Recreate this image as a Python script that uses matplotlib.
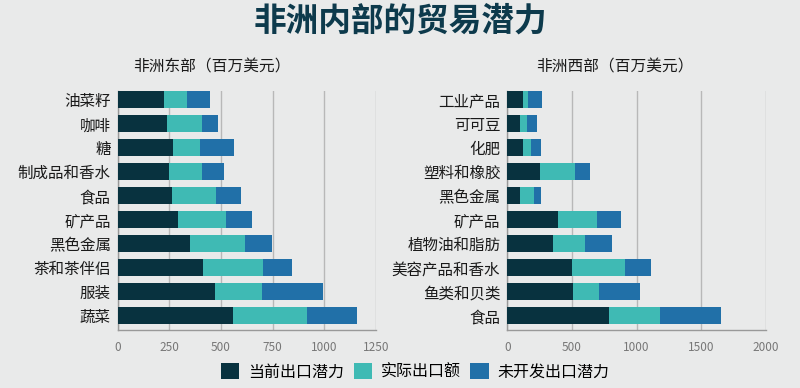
import matplotlib
matplotlib.use("Agg")
import matplotlib.pyplot as plt
from matplotlib.patches import Patch

plt.rcParams['font.family'] = ['Noto Sans CJK SC', 'DejaVu Sans']

# East Africa (million USD)
east_cats = ["油菜籽", "咖啡", "糖", "制成品和香水", "食品", "矿产品", "黑色金属", "茶和茶伴侣", "服装", "蔬菜"]
east_current = [225, 240, 269, 248, 261, 291, 351, 412, 472, 556]
east_actual = [112, 166, 132, 161, 217, 232, 263, 290, 225, 360]
east_untapped = [112, 79, 161, 108, 119, 129, 133, 140, 298, 240]

# West Africa (million USD)
west_cats = ["工业产品", "可可豆", "化肥", "塑料和橡胶", "黑色金属", "矿产品", "植物油和脂肪", "美容产品和香水", "鱼类和贝类", "食品"]
west_current = [121, 100, 121, 250, 100, 389, 351, 500, 510, 789]
west_actual = [36, 52, 62, 271, 106, 302, 250, 412, 201, 389]
west_untapped = [111, 77, 77, 121, 54, 190, 208, 196, 317, 471]

series_names = ["当前出口潜力", "实际出口额", "未开发出口潜力"]
colors = ["#08323f", "#3fbab4", "#2170a8"]
bg = "#e9eaea"

fig = plt.figure(figsize=(8, 3.88), dpi=100, facecolor=bg)


def draw(ax, cats, cur, act, unt, xmax, xticks):
    ax.set_facecolor(bg)
    y = list(range(len(cats)))
    left2 = [a + b for a, b in zip(cur, act)]
    ax.barh(y, cur, height=0.72, color=colors[0], zorder=3)
    ax.barh(y, act, left=cur, height=0.72, color=colors[1], zorder=3)
    ax.barh(y, unt, left=left2, height=0.72, color=colors[2], zorder=3)
    ax.set_ylim(9.6, -0.37)
    ax.set_xlim(0, xmax)
    ax.set_xticks(xticks)
    ax.set_yticks(y)
    ax.set_yticklabels(cats, fontsize=11.2, color="#1a1a1a")
    ax.tick_params(axis="x", length=0, labelsize=8.5, labelcolor="#777777", pad=8)
    ax.tick_params(axis="y", length=0, pad=5)
    ax.grid(axis="x", color="#b8b8b8", linewidth=1, zorder=0)
    for s in ["top", "right"]:
        ax.spines[s].set_visible(False)
    for s in ["left", "bottom"]:
        ax.spines[s].set_color("#999999")
        ax.spines[s].set_linewidth(1)


ax1 = fig.add_axes([0.147, 0.1495, 0.323, 0.616])
draw(ax1, east_cats, east_current, east_actual, east_untapped, 1250, [0, 250, 500, 750, 1000, 1250])

ax2 = fig.add_axes([0.634, 0.1495, 0.3235, 0.616])
draw(ax2, west_cats, west_current, west_actual, west_untapped, 2000, [0, 500, 1000, 1500, 2000])

fig.text(0.5, 0.945, "非洲内部的贸易潜力", ha="center", va="center",
         fontsize=23.5, fontweight="bold", color="#0d3a4c")
fig.text(212 / 800, 1 - 67 / 388, "非洲东部（百万美元）", ha="center", va="center",
         fontsize=11.3, color="#1a1a1a")
fig.text(615 / 800, 1 - 67 / 388, "非洲西部（百万美元）", ha="center", va="center",
         fontsize=11.3, color="#1a1a1a")

handles = [Patch(facecolor=c, edgecolor="none") for c in colors]
fig.legend(handles, series_names, loc="center", bbox_to_anchor=(0.519, 1 - 372 / 388),
           ncol=3, frameon=False, handlelength=1.15, handleheight=1.15,
           handletextpad=0.55, columnspacing=0.6, prop={"size": 11.5})

fig.savefig("out.png", dpi=100, facecolor=bg)
